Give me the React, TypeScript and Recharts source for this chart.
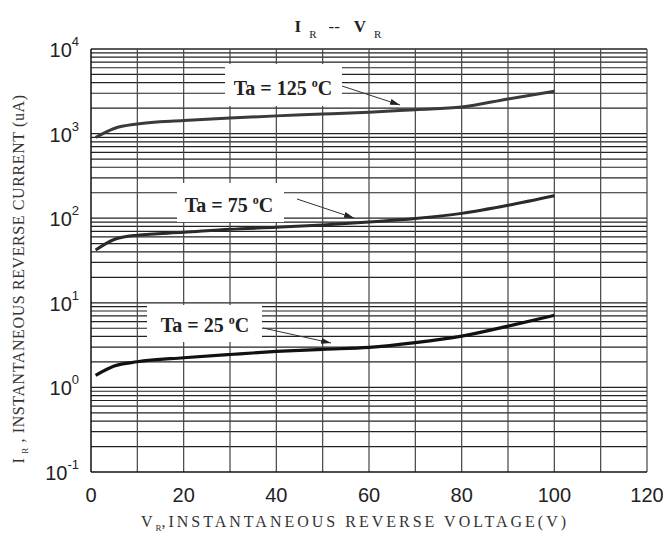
import { LineChart, Line, XAxis, YAxis, ReferenceLine } from 'recharts';

// reverse voltage (V)
const voltage = [1, 5, 10, 20, 30, 40, 50, 60, 70, 80, 90, 100];
// reverse current (uA) per ambient temperature
const ir125 = [900, 1150, 1300, 1425, 1530, 1620, 1700, 1790, 1920, 2060, 2570, 3160];
const ir75 = [42, 56, 63, 68, 74, 78, 83, 90, 99, 114, 142, 184];
const ir25 = [1.39, 1.79, 2.01, 2.24, 2.45, 2.66, 2.82, 2.97, 3.38, 4.04, 5.3, 7.1];

const xTicks = [0, 20, 40, 60, 80, 100, 120];
const yTicks = [0.1, 1, 10, 100, 1000, 10000];
const xGrid = [10, 20, 30, 40, 50, 60, 70, 80, 90, 100, 110, 120];
const yGrid = yTicks.flatMap((d) => (d >= 10000 ? [d] : [2, 3, 4, 5, 6, 7, 8, 9, 10].map((m) => +(d * m).toPrecision(3))));

const data = voltage.map((v, i) => ({ v, t125: ir125[i], t75: ir75[i], t25: ir25[i] }));

const sans = '"Liberation Sans", Arial, sans-serif';
const serif = '"Liberation Serif", "Times New Roman", serif';

function YTick(props: any) {
  const { x, y, payload } = props;
  const exp = Math.round(Math.log10(payload.value));
  return (
    <text x={x - 4} y={y + 8} textAnchor="end" fontFamily={sans} fontSize={20} fill="#222">
      <tspan>10</tspan>
      <tspan dy={-11} fontSize={13}>{exp}</tspan>
    </text>
  );
}

function XTick(props: any) {
  const { x, y, payload } = props;
  return (
    <text x={x} y={y + 22} textAnchor="middle" fontFamily={sans} fontSize={20} fill="#222">
      {payload.value}
    </text>
  );
}

function Note({ x, y, w, h, tx, ty, t, ax1, ay1, ax2, ay2 }: any) {
  return (
    <g>
      <rect x={x} y={y} width={w} height={h} fill="#fff" />
      <text x={tx} y={ty} textAnchor="middle" fontFamily={serif} fontWeight="bold" fontSize={20} fill="#222">
        Ta = {t} <tspan dy={-8} fontSize={12}>o</tspan>
        <tspan dy={8}>C</tspan>
      </text>
      <line x1={ax1} y1={ay1} x2={ax2} y2={ay2} stroke="#333" strokeWidth={1} markerEnd="url(#arr)" />
    </g>
  );
}

export default function App() {
  return (
    <div style={{ position: 'absolute', left: 0, top: 0, width: 663, height: 536, background: '#fff' }}>
      <LineChart width={663} height={536} data={data} margin={{ top: 49, right: 16, bottom: 0, left: 0 }}>
        {yGrid.map((g) => (
          <ReferenceLine key={'h' + g} y={g} stroke="#222" strokeWidth={1.2} ifOverflow="visible" />
        ))}
        {xGrid.map((g) => (
          <ReferenceLine key={'v' + g} x={g} stroke="#444" strokeWidth={1.2} ifOverflow="visible" />
        ))}
        <XAxis
          dataKey="v"
          type="number"
          domain={[0, 120]}
          ticks={xTicks}
          tick={<XTick />}
          tickLine={false}
          axisLine={{ stroke: '#111', strokeWidth: 1.5 }}
          height={64}
        />
        <YAxis
          scale="log"
          domain={[0.1, 10000]}
          ticks={yTicks}
          tick={<YTick />}
          tickLine={false}
          axisLine={{ stroke: '#111', strokeWidth: 1.5 }}
          width={91}
          allowDataOverflow
        />
        <Line dataKey="t125" type="monotone" stroke="#3a3a3a" strokeWidth={3} dot={false} isAnimationActive={false} />
        <Line dataKey="t75" type="monotone" stroke="#2a2a2a" strokeWidth={3} dot={false} isAnimationActive={false} />
        <Line dataKey="t25" type="monotone" stroke="#111" strokeWidth={3.2} dot={false} isAnimationActive={false} />
      </LineChart>
      <svg width={663} height={536} style={{ position: 'absolute', left: 0, top: 0, pointerEvents: 'none' }}>
        <defs>
          <marker id="arr" viewBox="0 0 10 6" refX={10} refY={3} markerWidth={10} markerHeight={6} orient="auto" markerUnits="userSpaceOnUse">
            <path d="M0,0 L10,3 L0,6 Z" fill="#222" />
          </marker>
        </defs>
        <text x={338} y={32} textAnchor="middle" fontFamily={serif} fontWeight="bold" fontSize={17} fill="#222">
          I<tspan dx={8} dy={6} fontSize={11} fontWeight="normal">R</tspan>
          <tspan dx={12} dy={-6} fontWeight="normal">--</tspan>
          <tspan dx={14}>V</tspan>
          <tspan dx={8} dy={6} fontSize={11} fontWeight="normal">R</tspan>
        </text>
        <Note x={225} y={64} w={117} h={42} tx={283} ty={95} t="125" ax1={342} ay1={86} ax2={400} ay2={105} />
        <Note x={177} y={183} w={107} h={39} tx={229} ty={212} t="75" ax1={297} ay1={199} ax2={354} ay2={218} />
        <Note x={147} y={305} w={115} h={37} tx={205} ty={332} t="25" ax1={263} ay1={328} ax2={331} ay2={343} />
        <text
          transform="translate(24 279) rotate(-90)"
          textAnchor="middle"
          fontFamily={serif}
          fontSize={16}
          fill="#333"
          letterSpacing={0.6}
        >
          I<tspan dx={4} dy={4} fontSize={9}>R</tspan>
          <tspan dy={-4}> , INSTANTANEOUS REVERSE CURRENT (uA)</tspan>
        </text>
        <text x={355} y={527} textAnchor="middle" fontFamily={serif} fontSize={16} fill="#333" letterSpacing={3}>
          V<tspan dy={4} fontSize={9} letterSpacing={0}>R</tspan>
          <tspan dy={-4}>,INSTANTANEOUS REVERSE VOLTAGE(V)</tspan>
        </text>
      </svg>
    </div>
  );
}
